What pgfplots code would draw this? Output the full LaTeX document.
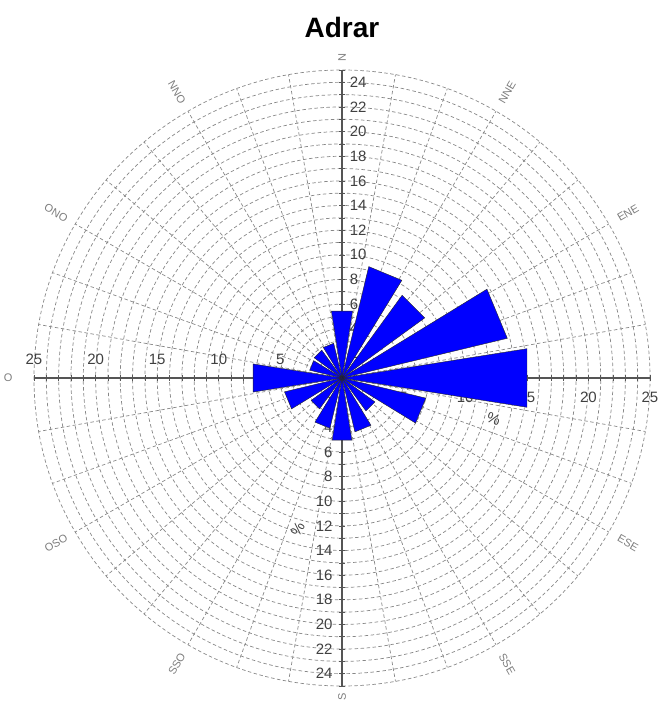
\documentclass[border=0pt]{standalone}
\usepackage{fontspec}
\setmainfont{Liberation Sans}
\usepackage{pgfplots}
\pgfplotsset{compat=1.18}
\definecolor{gridgray}{RGB}{135,135,135}
\definecolor{axgray}{RGB}{85,85,85}
\definecolor{lblgray}{RGB}{125,125,125}
\definecolor{barblue}{RGB}{0,0,255}
\begin{document}
\begin{tikzpicture}[x=12.32pt,y=12.32pt]
\path[use as bounding box] (-342pt,-324pt) rectangle (316pt,378pt);
% grid circles
\foreach \r in {1,...,25}
  \draw[gridgray, dash pattern=on 3.5pt off 2.5pt, line width=0.7pt] (0,0) circle[radius=\r];
% spokes
\foreach \a in {0,10,...,350}
  \draw[gridgray, dash pattern=on 3.5pt off 2.5pt, line width=0.7pt] (0,0) -- (\a:25);
% axes
\draw[axgray, line width=1.3pt] (-25,0) -- (25,0);
\draw[axgray, line width=1.3pt] (0,-25) -- (0,25);
\foreach \i in {-25,...,25} {
  \draw[axgray, line width=0.6pt] (\i,-0.22) -- (\i,0.22);
  \draw[axgray, line width=0.6pt] (-0.22,\i) -- (0.22,\i);
}
\begin{scope}[font=\fontsize{15}{17}\selectfont, text=black!75]
\foreach \v in {5,10,...,25} {
  \node at (-\v,1.5) {\v};
  \node at (\v,-1.6) {\v};
}
\foreach \v in {2,4,...,24} {
  \node[anchor=west, inner sep=0pt] at (0.62,\v) {\v};
  \node[anchor=east, inner sep=0pt] at (-0.75,-\v) {\v};
}
\node[rotate=-20] at (12.3,-3.3) {\%};
\node[rotate=60] at (-3.6,-12.3) {\%};
\end{scope}
% direction labels
\begin{scope}[font=\fontsize{11}{13}\selectfont, text=lblgray]
\node[rotate=90] at (90:26.0) {N};
\node[rotate=90] at (-90:25.9) {S};
\node at (180:27.1) {O};
\node[rotate=60] at (60:26.8) {NNE};
\node[rotate=30] at (30:26.8) {ENE};
\node[rotate=-30] at (-30:26.8) {ESE};
\node[rotate=-60] at (-60:26.8) {SSE};
\node[rotate=60] at (-120:26.8) {SSO};
\node[rotate=30] at (-150:26.8) {OSO};
\node[rotate=-30] at (150:26.8) {ONO};
\node[rotate=-60] at (120:26.8) {NNO};
\end{scope}
\node[font=\bfseries\fontsize{28}{32}\selectfont] at (0pt,351pt) {Adrar};
\begin{axis}[anchor=origin, at={(0pt,0pt)}, x=12.32pt, y=12.32pt,
  xmin=-25, xmax=25, ymin=-25, ymax=25, hide axis, clip=false]
\pgfplotsset{every axis plot/.append style={fill=barblue, draw=black!85, line width=0.4pt}}
% N
\addplot[data cs=polar] coordinates {(0,0) (81,5.5) (99,5.5) (0,0)};
% NNE
\addplot[data cs=polar] coordinates {(0,0) (58.5,9.3) (76.5,9.3) (0,0)};
% NE
\addplot[data cs=polar] coordinates {(0,0) (36,8.3) (54,8.3) (0,0)};
% ENE
\addplot[data cs=polar] coordinates {(0,0) (13.5,13.8) (31.5,13.8) (0,0)};
% E
\addplot[data cs=polar] coordinates {(0,0) (-9,15.2) (9,15.2) (0,0)};
% ESE
\addplot[data cs=polar] coordinates {(0,0) (-31.5,7.0) (-13.5,7.0) (0,0)};
% SE
\addplot[data cs=polar] coordinates {(0,0) (-54,3.3) (-36,3.3) (0,0)};
% SSE
\addplot[data cs=polar] coordinates {(0,0) (-76.5,4.5) (-58.5,4.5) (0,0)};
% S
\addplot[data cs=polar] coordinates {(0,0) (-99,5.1) (-81,5.1) (0,0)};
% SSW
\addplot[data cs=polar] coordinates {(0,0) (-121.5,4.2) (-103.5,4.2) (0,0)};
% SW
\addplot[data cs=polar] coordinates {(0,0) (-144,3.1) (-126,3.1) (0,0)};
% WSW
\addplot[data cs=polar] coordinates {(0,0) (-166.5,4.8) (-148.5,4.8) (0,0)};
% W
\addplot[data cs=polar] coordinates {(0,0) (171,7.3) (189,7.3) (0,0)};
% WNW
\addplot[data cs=polar] coordinates {(0,0) (148.5,2.7) (166.5,2.7) (0,0)};
% NW
\addplot[data cs=polar] coordinates {(0,0) (126,2.8) (144,2.8) (0,0)};
% NNW
\addplot[data cs=polar] coordinates {(0,0) (103.5,2.9) (121.5,2.9) (0,0)};
\end{axis}
\end{tikzpicture}
\end{document}
